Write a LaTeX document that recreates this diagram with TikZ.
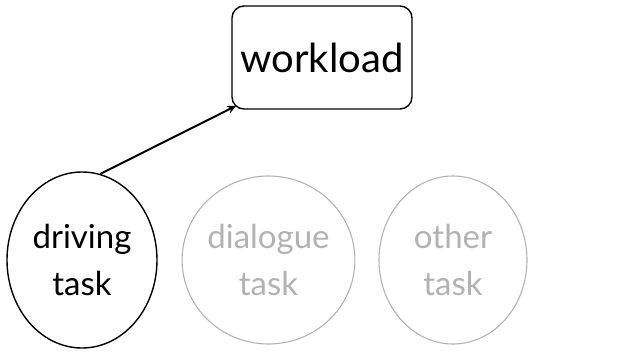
\documentclass[tikz,border=0pt]{standalone}
\usepackage{fontspec}
\setmainfont{Lato}
\usetikzlibrary{shapes.geometric,arrows.meta}
\definecolor{faded}{RGB}{178,178,178}
\tikzset{
  task/.style={ellipse, draw, line width=1.4pt, minimum width=150pt, minimum height=176pt,
    inner sep=0pt, align=center, font=\fontsize{33}{47}\selectfont},
  inactive/.style={task, draw=faded, text=faded, line width=1.1pt, minimum height=168pt, minimum width=148pt},
  loadbox/.style={rectangle, rounded corners=12pt, draw, line width=1.4pt, minimum width=180pt,
    minimum height=103pt, inner sep=0pt, font=\fontsize{40}{48}\selectfont},
  link/.style={line width=2pt, -{Stealth[length=9pt,width=8pt]}}
}
\begin{document}
\begin{tikzpicture}[x=1pt,y=-1pt]
  \useasboundingbox (0,0) rectangle (629,353);
  \node[loadbox] (workload) at (322,57.5) {workload};
  \node[task] (driving) at (82,260) {driving\\task};
  \node[inactive] (dialogue) at (268.5,260) {dialogue\\task};
  \node[inactive] (other) at (453,260) {other\\task};
  \draw[link] (driving.78) -- ([xshift=5pt,yshift=4pt]workload.south west);
\end{tikzpicture}
\end{document}
